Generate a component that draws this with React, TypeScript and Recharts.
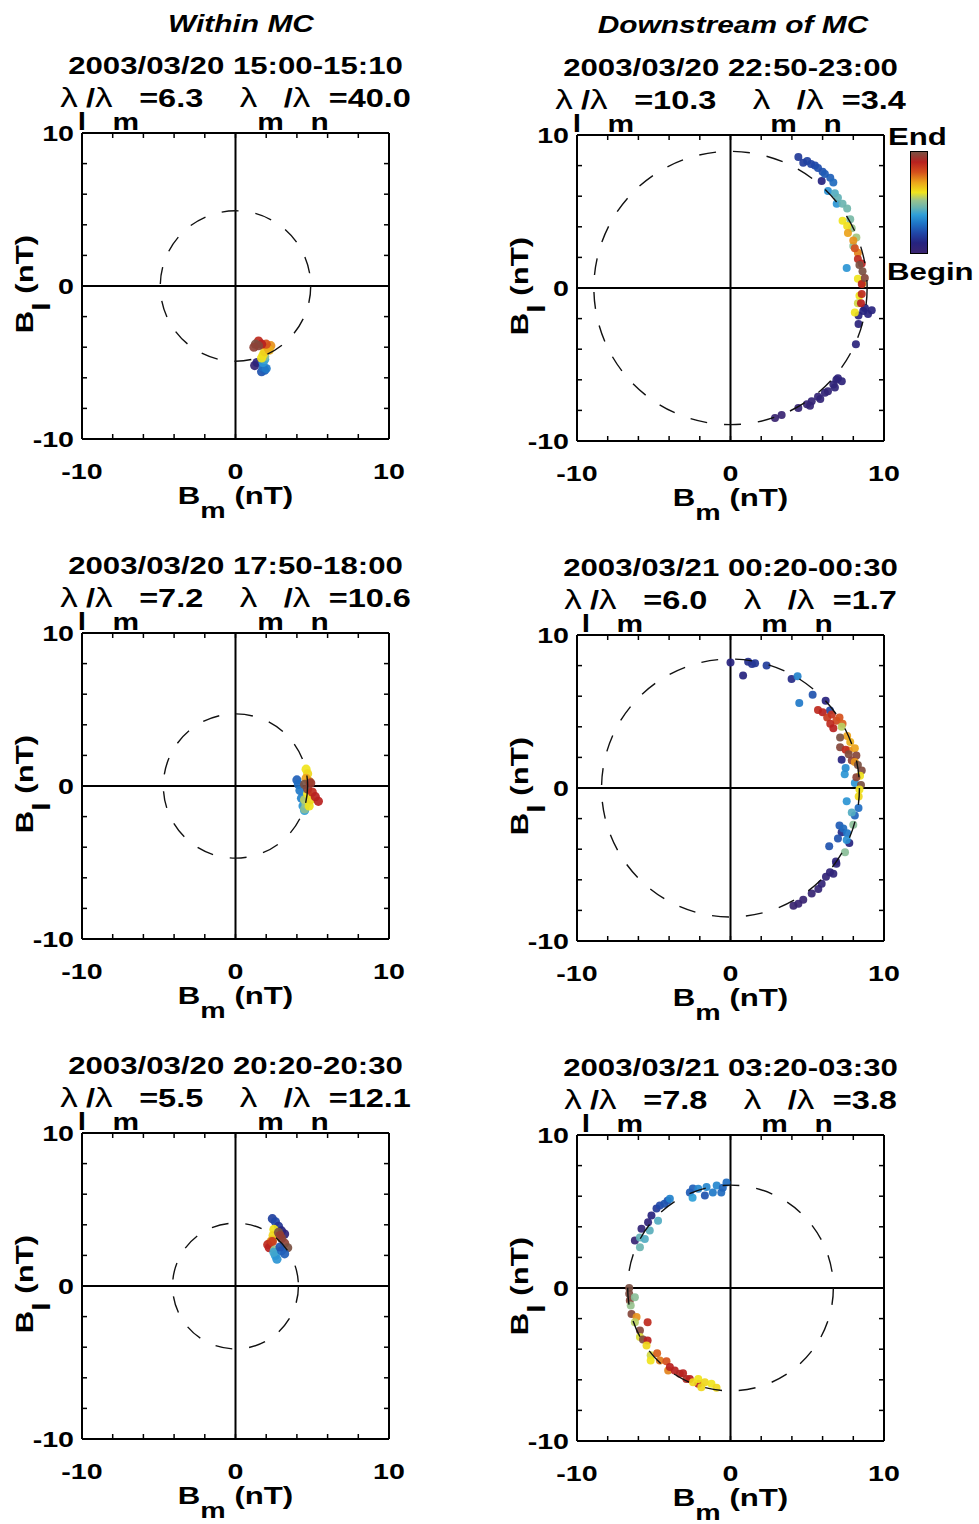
import React from 'react';
import { ScatterChart, Scatter, XAxis, YAxis, ReferenceLine } from 'recharts';

// [Bm, Bl, time fraction] ; time fraction 0 = Begin, 1 = End
type Pt = [number, number, number];

const within1: Pt[] = [
  [1.25, -5.2, 0.02], [1.4, -5.0, 0.06], [1.7, -5.6, 0.22], [1.9, -5.5, 0.25],
  [1.8, -5.3, 0.28], [2.0, -5.4, 0.3], [1.8, -5.0, 0.36], [1.9, -4.8, 0.4],
  [1.9, -4.6, 0.5], [1.7, -4.7, 0.6], [1.8, -4.5, 0.61], [1.9, -4.3, 0.63],
  [2.1, -4.0, 0.7], [2.3, -3.9, 0.72], [2.2, -4.2, 0.68], [2.0, -3.8, 0.8],
  [1.5, -3.6, 0.88], [1.7, -3.8, 0.9], [1.3, -3.8, 1.0], [1.5, -3.9, 0.98], [1.2, -4.0, 0.97],
];

const within2: Pt[] = [
  [4.0, 0.4, 0.25], [4.1, 0.1, 0.28], [4.2, -0.3, 0.3], [4.3, -0.8, 0.32],
  [4.4, -1.3, 0.36], [4.5, -1.6, 0.38], [4.5, -1.5, 0.5], [4.6, -1.2, 0.52],
  [4.5, -0.9, 0.55], [4.8, -1.3, 0.6], [4.9, -0.9, 0.62], [4.7, -0.5, 0.6],
  [4.6, 1.1, 0.6], [4.7, 0.8, 0.62], [4.6, 0.5, 0.7], [4.8, 0.3, 0.72],
  [4.5, 0.1, 1.0], [4.7, -0.2, 0.98], [4.9, 0.2, 0.95], [5.0, -0.4, 0.88],
  [5.2, -0.7, 0.9], [5.4, -1.0, 0.9],
];

const within3: Pt[] = [
  [2.4, 4.4, 0.18], [2.6, 4.2, 0.2], [2.8, 3.9, 0.15], [3.0, 3.6, 0.1], [3.2, 3.4, 0.06],
  [2.5, 3.7, 0.6], [2.45, 3.3, 0.62], [2.4, 3.0, 0.65], [2.3, 2.9, 0.72],
  [2.1, 2.7, 0.88], [2.2, 2.5, 0.9], [2.4, 2.9, 0.85],
  [2.8, 3.5, 1.0], [3.0, 3.1, 0.98], [3.2, 2.8, 0.97], [3.4, 2.5, 1.0], [2.9, 3.3, 0.96],
  [2.55, 2.35, 0.52], [2.6, 2.0, 0.38], [2.7, 1.75, 0.36], [2.5, 2.2, 0.4],
  [3.0, 2.3, 0.28], [3.2, 2.1, 0.25], [2.9, 2.55, 0.22],
];

const downstream1: Pt[] = [
  [2.9, -8.5, 0.0], [3.33, -8.3, 0.01], [4.42, -7.85, 0.02], [4.98, -7.6, 0.02],
  [5.18, -7.7, 0.03], [5.29, -7.4, 0.03], [5.7, -7.1, 0.03], [5.85, -7.25, 0.04],
  [6.15, -6.85, 0.04], [6.35, -6.75, 0.04], [6.7, -6.3, 0.05], [6.8, -6.5, 0.05],
  [6.9, -6.0, 0.05], [7.0, -5.9, 0.06], [7.25, -6.1, 0.06], [8.17, -3.67, 0.08],
  [8.34, -2.35, 0.08], [8.34, -1.8, 0.09], [8.96, -1.7, 0.09], [9.2, -1.45, 0.09],
  [8.65, -1.5, 0.1], [8.76, -1.3, 0.1], [5.94, 7.0, 0.1],
  [4.42, 8.56, 0.16], [4.74, 8.19, 0.17], [5.0, 8.3, 0.18], [5.25, 8.1, 0.19],
  [5.5, 8.0, 0.2], [5.7, 7.85, 0.21], [6.0, 7.6, 0.22], [6.15, 7.45, 0.24],
  [6.5, 7.2, 0.25], [6.7, 6.9, 0.27], [6.35, 6.34, 0.35], [6.92, 5.5, 0.36],
  [7.57, 1.3, 0.36], [6.8, 6.2, 0.42], [7.0, 5.9, 0.44], [7.3, 5.5, 0.45],
  [7.6, 5.2, 0.46], [7.8, 4.5, 0.47], [7.9, 3.9, 0.52], [8.2, 3.3, 0.53],
  [8.0, 2.75, 0.5], [7.3, 4.4, 0.6], [7.6, 4.05, 0.61], [7.65, 3.6, 0.7],
  [8.0, 3.1, 0.72], [8.3, 2.3, 0.74], [8.1, 2.6, 0.8], [8.3, 1.9, 0.88],
  [8.55, 1.6, 0.9], [8.3, 0.6, 0.6], [8.6, 0.3, 0.62], [8.55, 0.26, 0.9],
  [8.4, -0.5, 0.6], [8.55, -0.4, 0.88], [8.3, -1.0, 0.57], [8.5, -1.0, 0.9],
  [8.1, -1.6, 0.6], [8.4, 1.5, 1.0], [8.6, 1.1, 1.0], [8.75, 0.65, 0.98],
];

const downstream2: Pt[] = [
  [4.1, -7.7, 0.0], [4.42, -7.57, 0.01], [4.74, -7.3, 0.01], [5.29, -6.9, 0.02],
  [5.72, -6.6, 0.03], [5.94, -6.26, 0.04], [6.22, -5.8, 0.04], [6.48, -5.5, 0.05],
  [6.7, -5.6, 0.05], [6.9, -4.95, 0.06], [6.87, -4.8, 0.06], [7.74, -3.6, 0.1],
  [7.24, -2.9, 0.12], [6.43, -3.8, 0.22], [7.0, -3.3, 0.22], [7.1, -2.45, 0.24],
  [7.35, -2.65, 0.27], [7.6, -2.95, 0.3], [7.57, -3.4, 0.35], [8.1, -1.8, 0.26],
  [8.34, -1.3, 0.28], [7.9, -1.6, 0.42], [7.57, -0.86, 0.36], [8.1, 0.33, 0.36],
  [7.44, 0.9, 0.36], [7.5, 1.3, 0.34], [7.24, 1.85, 0.1], [7.46, -4.2, 0.5],
  [8.0, -2.4, 0.5], [0.0, 8.2, 0.09], [0.82, 7.35, 0.1], [1.15, 8.25, 0.13],
  [1.4, 8.1, 0.14], [1.6, 8.15, 0.15], [2.35, 8.0, 0.17], [3.98, 7.13, 0.12],
  [4.37, 7.3, 0.32], [4.48, 5.55, 0.3], [5.35, 6.1, 0.22], [6.2, 5.7, 0.09],
  [6.48, 5.07, 0.2], [5.7, 5.1, 0.88], [6.0, 4.95, 0.9], [6.3, 4.6, 0.85],
  [6.6, 4.8, 0.86], [6.9, 4.4, 0.82], [7.1, 4.6, 0.8], [7.3, 4.2, 0.78],
  [6.5, 4.2, 0.88], [6.7, 3.9, 0.9], [7.24, 4.0, 0.55], [7.6, 3.4, 0.7],
  [7.8, 3.0, 0.68], [8.1, 2.6, 0.7], [7.7, 2.45, 0.72], [7.14, 3.3, 1.0],
  [7.14, 2.67, 0.98], [7.5, 2.5, 0.88], [7.7, 2.2, 0.99], [8.2, 2.12, 0.98],
  [7.9, 1.8, 0.97], [8.1, 1.7, 0.72], [8.3, 1.5, 1.0], [8.55, 1.15, 0.99],
  [8.44, 0.8, 0.6], [8.2, 0.7, 0.97], [8.5, 0.2, 1.0], [8.4, -0.1, 0.6], [8.35, -0.55, 0.62],
];

const downstream3: Pt[] = [
  [-6.23, 3.1, 0.02], [-5.8, 3.87, 0.04], [-5.37, 4.3, 0.05], [-5.15, 4.74, 0.09],
  [-4.82, 5.2, 0.16], [-4.6, 5.4, 0.2], [-4.3, 5.5, 0.22], [-4.1, 5.7, 0.23],
  [-3.95, 5.83, 0.32], [-2.65, 6.25, 0.24], [-2.45, 6.5, 0.25], [-2.47, 5.9, 0.38],
  [-2.1, 6.48, 0.33], [-1.67, 6.05, 0.22], [-1.56, 6.6, 0.33], [-1.15, 6.25, 0.3],
  [-0.9, 6.7, 0.33], [-0.6, 6.25, 0.27], [-0.5, 6.55, 0.26], [-0.26, 6.9, 0.28],
  [-4.72, 4.4, 0.42], [-5.26, 3.76, 0.43], [-5.9, 3.3, 0.44], [-5.58, 3.2, 0.42],
  [-5.9, 2.67, 0.45],
  [-6.6, 0.0, 1.0], [-6.6, -0.38, 0.99], [-6.56, -0.82, 0.98], [-6.23, -0.6, 0.5],
  [-6.5, -1.15, 0.52], [-6.45, -1.7, 0.98], [-6.12, -1.9, 0.72], [-6.23, -2.24, 0.55],
  [-5.9, -2.78, 0.98], [-5.4, -2.24, 0.88], [-5.9, -3.2, 0.58], [-5.7, -3.37, 0.99],
  [-5.4, -3.43, 0.9], [-5.47, -3.75, 0.62], [-5.2, -4.4, 0.57], [-5.2, -4.74, 0.6],
  [-4.78, -4.26, 0.78], [-4.6, -4.74, 0.75], [-4.17, -4.78, 0.8], [-4.06, -5.4, 0.74],
  [-3.95, -5.17, 0.9], [-3.63, -5.4, 0.9], [-3.3, -5.6, 0.92], [-3.09, -5.57, 0.9],
  [-2.87, -5.94, 0.92], [-2.65, -5.94, 0.9], [-2.1, -6.26, 0.9], [-2.44, -6.16, 0.62],
  [-2.1, -5.94, 0.6], [-1.67, -6.16, 0.62], [-1.24, -6.26, 0.6], [-1.9, -6.48, 0.62],
  [-0.91, -6.52, 0.62],
];

// dashed circle radius (nT) for each panel
const circleRadius = [4.9, 4.7, 4.1, 8.9, 8.4, 6.7];
const intervals = [
  '2003/03/20 15:00-15:10', '2003/03/20 17:50-18:00', '2003/03/20 20:20-20:30',
  '2003/03/20 22:50-23:00', '2003/03/21 00:20-00:30', '2003/03/21 03:20-03:30',
];
const ratioLM = ['6.3', '7.2', '5.5', '10.3', '6.0', '7.8'];
const ratioMN = ['40.0', '10.6', '12.1', '3.4', '1.7', '3.8'];
const TICKS = [-10, -8, -6, -4, -2, 0, 2, 4, 6, 8, 10];
const LABELED = [-10, 0, 10];

const FONT = '"Liberation Sans", Arial, sans-serif';
const SX = 1.3;
const PLOT_W = 307;
const PLOT_H = 306;
const AX_L = 75, AX_R = 30, AX_T = 20, AX_B = 60;
const TICK_LEN = 5;

const cmapStops: [number, string][] = [
  [0.0, '#3a2470'], [0.1, '#26237f'], [0.2, '#2048a8'], [0.3, '#1f78c8'],
  [0.38, '#2f9fd8'], [0.45, '#6ab4b0'], [0.52, '#97c28e'], [0.6, '#f0e41c'],
  [0.7, '#eba31b'], [0.8, '#d5501c'], [0.9, '#b8211f'], [1.0, '#7a5042'],
];

const hex = (c: string) => [1, 3, 5].map(i => parseInt(c.slice(i, i + 2), 16));
function cmap(t: number) {
  for (let i = 1; i < cmapStops.length; i++) {
    const [t1, c1] = cmapStops[i];
    const [t0, c0] = cmapStops[i - 1];
    if (t <= t1) {
      const f = (t - t0) / (t1 - t0);
      const a = hex(c0), b = hex(c1);
      return `rgb(${a.map((v, k) => Math.round(v + (b[k] - v) * f)).join(',')})`;
    }
  }
  return cmapStops[cmapStops.length - 1][1];
}

const label = (x: number, y: number, v: number, anchor: string) => (
  <text transform={`translate(${x},${y}) scale(${SX},1)`} textAnchor={anchor}
    fontSize={22} fontWeight="bold" fontFamily={FONT} fill="#000">{v}</text>
);

const BottomTick = ({ x, y, payload }: any) => (
  <g>
    <line x1={x} y1={y} x2={x} y2={y - TICK_LEN} stroke="#000" strokeWidth={1.5} />
    {LABELED.includes(payload.value) && label(x, y + 40, payload.value, 'middle')}
  </g>
);
const TopTick = ({ x, y }: any) => (
  <line x1={x} y1={y} x2={x} y2={y + TICK_LEN} stroke="#000" strokeWidth={1.5} />
);
const LeftTick = ({ x, y, payload }: any) => (
  <g>
    <line x1={x} y1={y} x2={x + TICK_LEN} y2={y} stroke="#000" strokeWidth={1.5} />
    {LABELED.includes(payload.value) && label(x - 8, y + 8, payload.value, 'end')}
  </g>
);
const RightTick = ({ x, y }: any) => (
  <line x1={x} y1={y} x2={x - TICK_LEN} y2={y} stroke="#000" strokeWidth={1.5} />
);

const axisLine = { stroke: '#000', strokeWidth: 2 };

function Panel({ left, top, points, radius, dotR }: { left: number; top: number; points: Pt[]; radius: number; dotR: number }) {
  const data = points.map(([x, y, t]) => ({ x, y, t }));
  const pxPerUnit = PLOT_W / 20;
  const common = {
    type: 'number' as const, domain: [-10, 10], ticks: TICKS, interval: 0 as const,
    axisLine, tickLine: false, tickSize: 0, tickMargin: 0, allowDataOverflow: true,
  };
  return (
    <div style={{ position: 'absolute', left: left - AX_L, top: top - AX_T }}>
      <ScatterChart width={AX_L + PLOT_W + AX_R} height={AX_T + PLOT_H + AX_B}
        margin={{ top: 0, right: 0, bottom: 0, left: 0 }}>
        <XAxis xAxisId="b" dataKey="x" orientation="bottom" height={AX_B} tick={BottomTick} {...common} />
        <XAxis xAxisId="t" dataKey="x" orientation="top" height={AX_T} tick={TopTick} {...common} />
        <YAxis yAxisId="l" dataKey="y" orientation="left" width={AX_L} tick={LeftTick} {...common} />
        <YAxis yAxisId="r" dataKey="y" orientation="right" width={AX_R} tick={RightTick} {...common} />
        <Scatter xAxisId="b" yAxisId="l" data={data} isAnimationActive={false}
          shape={(p: any) => <circle cx={p.cx} cy={p.cy} r={dotR} fill={cmap(p.payload.t)} fillOpacity={0.92} />} />
        <Scatter xAxisId="t" yAxisId="r" data={[{ x: 0, y: 0, r: radius }]} isAnimationActive={false}
          shape={(p: any) => (
            <circle cx={p.cx} cy={p.cy} r={p.payload.r * pxPerUnit} fill="none"
              stroke="#111" strokeWidth={1.4} strokeDasharray="17 17" />
          )} />
        <ReferenceLine xAxisId="b" yAxisId="l" x={0} stroke="#000" strokeWidth={2} />
        <ReferenceLine xAxisId="b" yAxisId="l" y={0} stroke="#000" strokeWidth={2} />
      </ScatterChart>
    </div>
  );
}

const T = (props: any) => {
  const { x, y, anchor = 'middle', size = 24, rotate, italic, children } = props;
  return (
    <text transform={`translate(${x},${y})${rotate ? ' rotate(-90)' : ''} scale(${SX},1)`}
      textAnchor={anchor} fontSize={size} fontWeight="bold" fontStyle={italic ? 'italic' : 'normal'}
      fontFamily={FONT} fill="#000">{children}</text>
  );
};

const SUB = 23;

function PanelText({ i, left, top }: { i: number; left: number; top: number }) {
  const cx = left + PLOT_W / 2;
  const bottom = top + PLOT_H;
  return (
    <g>
      <T x={cx} y={top - 59}>{intervals[i]}</T>
      <T x={cx} y={top - 26} size={25}>
        <tspan fontWeight="normal" fontSize={27}>λ</tspan><tspan dy={SUB} fontSize={23}>l</tspan>
        <tspan dy={-SUB}>/</tspan><tspan fontWeight="normal" fontSize={27}>λ</tspan>
        <tspan dy={SUB} fontSize={23}>m</tspan><tspan dy={-SUB}>={ratioLM[i]}</tspan>
        <tspan dx={28} fontWeight="normal" fontSize={27}>λ</tspan><tspan dy={SUB} fontSize={23}>m</tspan>
        <tspan dy={-SUB}>/</tspan><tspan fontWeight="normal" fontSize={27}>λ</tspan>
        <tspan dy={SUB} fontSize={23}>n</tspan><tspan dy={-SUB}>={ratioMN[i]}</tspan>
      </T>
      <T x={cx} y={bottom + 65}>
        B<tspan dy={14} fontSize={22}>m</tspan><tspan dy={-14}> (nT)</tspan>
      </T>
      <T x={left - 49} y={top + 151} rotate>
        B<tspan dy={17} fontSize={23}>l</tspan><tspan dy={-17}> (nT)</tspan>
      </T>
    </g>
  );
}

const layout = [
  { left: 82, top: 133 }, { left: 82, top: 633 }, { left: 82, top: 1133 },
  { left: 577, top: 135 }, { left: 577, top: 635 }, { left: 577, top: 1135 },
];
const panelData = [within1, within2, within3, downstream1, downstream2, downstream3];

export default function App() {
  const gradient = `linear-gradient(to top, ${cmapStops.map(([t, c]) => `${c} ${t * 100}%`).join(', ')})`;
  return (
    <div style={{ position: 'absolute', left: 0, top: 0, width: 979, height: 1524, background: '#fff', overflow: 'hidden' }}>
      {layout.map((l, i) => (
        <Panel key={i} left={l.left} top={l.top} points={panelData[i]} radius={circleRadius[i]} dotR={i < 3 ? 4.6 : 4} />
      ))}
      <svg width={979} height={1524} style={{ position: 'absolute', left: 0, top: 0, pointerEvents: 'none' }}>
        <T x={241} y={32} size={23} italic>Within MC</T>
        <T x={733} y={33} size={23} italic>Downstream of MC</T>
        {layout.map((l, i) => <PanelText key={i} i={i} left={l.left} top={l.top} />)}
        <T x={888} y={145} anchor="start" size={24}>End</T>
        <T x={887} y={280} anchor="start" size={24}>Begin</T>
      </svg>
      <div style={{
        position: 'absolute', left: 910, top: 151, width: 16, height: 101,
        border: '1.5px solid #000', background: gradient,
      }} />
    </div>
  );
}
